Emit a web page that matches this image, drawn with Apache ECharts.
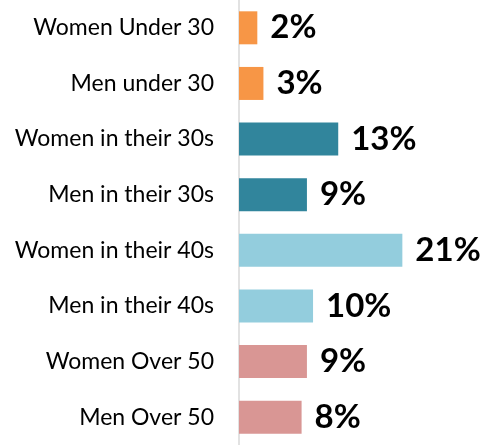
<!DOCTYPE html>
<html>
<head>
<meta charset="utf-8">
<script src="https://cdn.jsdelivr.net/npm/echarts@6/dist/echarts.min.js"></script>
<style>
  html, body { margin: 0; padding: 0; background: #fff; }
  #chart { width: 482px; height: 445px; }
</style>
</head>
<body>
<div id="chart"></div>
<script>
// categories, top to bottom
var groups = ['Women Under 30', 'Men under 30', 'Women in their 30s', 'Men in their 30s',
  'Women in their 40s', 'Men in their 40s', 'Women Over 50', 'Men Over 50'];
// share in percent (labels show rounded values)
var shares = [2.4, 3.2, 13.0, 8.9, 21.4, 9.7, 8.9, 8.2];
var barColors = ['#F79646', '#F79646', '#31859C', '#31859C', '#93CDDD', '#93CDDD', '#D99694', '#D99694'];

var chart = echarts.init(document.getElementById('chart'));

var option = {
  backgroundColor: '#ffffff',
  animation: false,
  grid: { left: 239, right: 14, top: -2, bottom: -4 },
  xAxis: {
    type: 'value',
    min: 0,
    max: 30,
    show: false
  },
  yAxis: {
    type: 'category',
    inverse: true,
    data: groups,
    axisLine: { show: true, lineStyle: { color: '#D9D9D9', width: 1.5 } },
    axisTick: { show: false },
    axisLabel: {
      margin: 25,
      color: '#000',
      fontFamily: 'Lato',
      fontSize: 23
    }
  },
  series: [{
    type: 'bar',
    barWidth: 33,
    data: shares.map(function (v, i) {
      return { value: v, itemStyle: { color: barColors[i] } };
    }),
    label: {
      show: true,
      position: 'right',
      distance: 13,
      color: '#000',
      fontFamily: 'Lato',
      fontWeight: 'bold',
      fontSize: 33,
      formatter: function (p) { return Math.round(p.value) + '%'; }
    }
  }]
};

chart.setOption(option);
</script>
</body>
</html>
